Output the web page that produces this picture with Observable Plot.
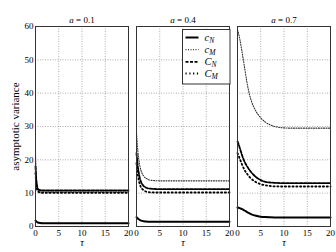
<!DOCTYPE html>
<html><head><meta charset="utf-8">
<script src="https://cdn.jsdelivr.net/npm/d3@7"></script>
<script src="https://cdn.jsdelivr.net/npm/@observablehq/plot@0.6"></script>
<style>
html,body{margin:0;padding:0;background:#fff;}
#wrap{position:relative;width:336px;height:252px;}
#legend{position:absolute;left:181.5px;top:28.5px;}
#wrap svg, #wrap svg text{font-family:'Liberation Serif','DejaVu Serif',serif !important;}
</style></head><body><div id="wrap"></div>
<script>
const panels = ["0.1", "0.4", "0.7"];
const tau = [0, 0.1, 0.2, 0.3, 0.5, 0.75, 1, 1.5, 2, 2.5, 3, 4, 5, 6, 7, 8, 10, 12, 15, 20];
const xTicks = [0, 5, 10, 15, 20];
const yTicks = [0, 10, 20, 30, 40, 50, 60];

// a = 0.1
const cN_01 = [1.8, 1.6, 1.45, 1.35, 1.2, 1.1, 1.05, 1.0, 1.0, 1.0, 1.0, 1.0, 1.0, 1.0, 1.0, 1.0, 1.0, 1.0, 1.0, 1.0];
const cM_01 = [22, 17.5, 14.5, 12.8, 11.4, 10.7, 10.4, 10.3, 10.3, 10.3, 10.3, 10.3, 10.3, 10.3, 10.3, 10.3, 10.3, 10.3, 10.3, 10.3];
const CN_01 = [18, 15.5, 13.5, 12.3, 11.4, 11.0, 10.9, 10.8, 10.8, 10.8, 10.8, 10.8, 10.8, 10.8, 10.8, 10.8, 10.8, 10.8, 10.8, 10.8];
const CM_01 = [16, 13.8, 12.2, 11.3, 10.6, 10.3, 10.2, 10.1, 10.1, 10.1, 10.1, 10.1, 10.1, 10.1, 10.1, 10.1, 10.1, 10.1, 10.1, 10.1];
// a = 0.4
const cN_04 = [2.8, 2.65, 2.5, 2.4, 2.15, 1.9, 1.75, 1.58, 1.5, 1.45, 1.42, 1.4, 1.4, 1.4, 1.4, 1.4, 1.4, 1.4, 1.4, 1.4];
const cM_04 = [28, 26, 24, 22.5, 20, 18, 16.7, 15.2, 14.5, 14.1, 13.9, 13.75, 13.7, 13.7, 13.7, 13.7, 13.7, 13.7, 13.7, 13.7];
const CN_04 = [22, 20.5, 19, 17.8, 16, 14.3, 13.3, 12.2, 11.7, 11.45, 11.35, 11.25, 11.2, 11.2, 11.2, 11.2, 11.2, 11.2, 11.2, 11.2];
const CM_04 = [19, 17.6, 16.3, 15.3, 13.8, 12.5, 11.7, 10.9, 10.5, 10.35, 10.25, 10.2, 10.2, 10.2, 10.2, 10.2, 10.2, 10.2, 10.2, 10.2];
// a = 0.7
const cN_07 = [5.7, 5.68, 5.65, 5.6, 5.5, 5.35, 5.2, 4.8, 4.4, 4.0, 3.65, 3.2, 2.95, 2.82, 2.75, 2.72, 2.7, 2.7, 2.7, 2.7];
const cM_07 = [59, 58.6, 58.1, 57.5, 56.2, 54.2, 52.2, 47.8, 43.5, 40, 37.6, 34.5, 32.6, 31.3, 30.5, 30, 29.6, 29.5, 29.5, 29.5];
const CN_07 = [25.5, 25.2, 24.8, 24.4, 23.5, 22.4, 21.3, 19.5, 18.2, 17.1, 16.2, 14.8, 13.9, 13.4, 13.2, 13.1, 13.0, 13.0, 13.0, 13.0];
const CM_07 = [22, 21.7, 21.4, 21.0, 20.3, 19.4, 18.5, 17.0, 15.9, 15.0, 14.3, 13.3, 12.7, 12.35, 12.15, 12.05, 12.0, 12.0, 12.0, 12.0];

const seriesKeys = ["cN", "cM", "CN", "CM"];
const legendLetters = ["c", "c", "C", "C"];
const legendSubs = ["N", "M", "N", "M"];
const yLabel = "asymptotic variance";
const xLabel = "τ";

const sets = {
  "0.1": {cN: cN_01, cM: cM_01, CN: CN_01, CM: CM_01},
  "0.4": {cN: cN_04, cM: cM_04, CN: CN_04, CM: CM_04},
  "0.7": {cN: cN_07, cM: cM_07, CN: CN_07, CM: CM_07}
};
const table = [];
for (const a of panels) for (const s of seriesKeys) sets[a][s].forEach((v, i) => table.push({a, s, tau: tau[i], v}));

const styles = {
  cN: {strokeWidth: 2, strokeDasharray: null, stroke: "#000"},
  cM: {strokeWidth: 1.1, strokeDasharray: "1,1.5", stroke: "#333"},
  CN: {strokeWidth: 1.8, strokeDasharray: "3,1.5", stroke: "#000"},
  CM: {strokeWidth: 1.8, strokeDasharray: "1.2,2.6", stroke: "#000"}
};

const chart = Plot.plot({
  width: 336, height: 252,
  marginLeft: 34, marginRight: 5, marginTop: 26, marginBottom: 26,
  style: {fontFamily: "'Liberation Serif', 'DejaVu Serif', serif", fontSize: "8.5px", background: "#fff", color: "#000"},
  fx: {domain: panels, paddingInner: 0.083, paddingOuter: 0, label: null},
  x: {domain: [0, 20], label: null},
  y: {domain: [0, 60], label: null},
  marks: [
    Plot.gridX(xTicks, {stroke: "#777", strokeOpacity: 1, strokeWidth: 0.6, strokeDasharray: "1,1.5", facetAnchor: null}),
    Plot.gridY(yTicks, {stroke: "#777", strokeOpacity: 1, strokeWidth: 0.6, strokeDasharray: "1,1.5", facetAnchor: null}),
    ...seriesKeys.map(s => Plot.line(table.filter(d => d.s === s), {
      x: "tau", y: "v", fx: "a", curve: "monotone-x", ...styles[s]
    })),
    Plot.frame({stroke: "#333", strokeWidth: 1}),
    Plot.axisY(yTicks, {tickSize: 0, tickPadding: 2, label: null, fontSize: 9}),
    Plot.axisX(xTicks, {tickSize: 0, tickPadding: 3, label: null, facetAnchor: null, fontSize: 9}),
    Plot.axisFx({anchor: "top", tickSize: 0, tickPadding: 4, label: null, fontSize: 9, tickFormat: d => "a = " + d}),
    Plot.text(panels, {fx: d => d, text: () => xLabel, frameAnchor: "bottom", dy: 19, fontStyle: "italic", fontSize: 10}),
    Plot.text(panels.slice(0, 1), {fx: d => d, text: () => yLabel, frameAnchor: "left", textAnchor: "middle", rotate: -90, dx: -20, fontSize: 11})
  ]
});
document.getElementById("wrap").appendChild(chart);

// italic "a" in facet titles
d3.select(chart).selectAll('g[aria-label="fx-axis tick label"] text').each(function () {
  const t = this.textContent.replace("a = ", "");
  const sel = d3.select(this);
  sel.text(null);
  sel.append("tspan").attr("font-style", "italic").text("a");
  sel.append("tspan").text(" = " + t);
});

// legend overlay
const lg = d3.select("#wrap").append("svg").attr("id", "legend").attr("width", 49).attr("height", 56);
lg.append("rect").attr("x", 0.5).attr("y", 0.5).attr("width", 47.5).attr("height", 54.5)
  .attr("fill", "#fff").attr("stroke", "#333").attr("stroke-width", 1);
const rowY = [8.5, 20.6, 32.8, 44.5];
seriesKeys.forEach((s, i) => {
  const st = styles[s];
  lg.append("line").attr("x1", 3.5).attr("x2", 16.5).attr("y1", rowY[i]).attr("y2", rowY[i])
    .attr("stroke", st.stroke).attr("stroke-width", st.strokeWidth)
    .attr("stroke-dasharray", st.strokeDasharray);
  const t = lg.append("text").attr("x", 22.5).attr("y", rowY[i] + 3)
    .attr("font-style", "italic").attr("font-size", 10.5);
  t.append("tspan").text(legendLetters[i]);
  t.append("tspan").attr("font-size", 7.5).attr("dy", 2).text(legendSubs[i]);
});
</script></body></html>
